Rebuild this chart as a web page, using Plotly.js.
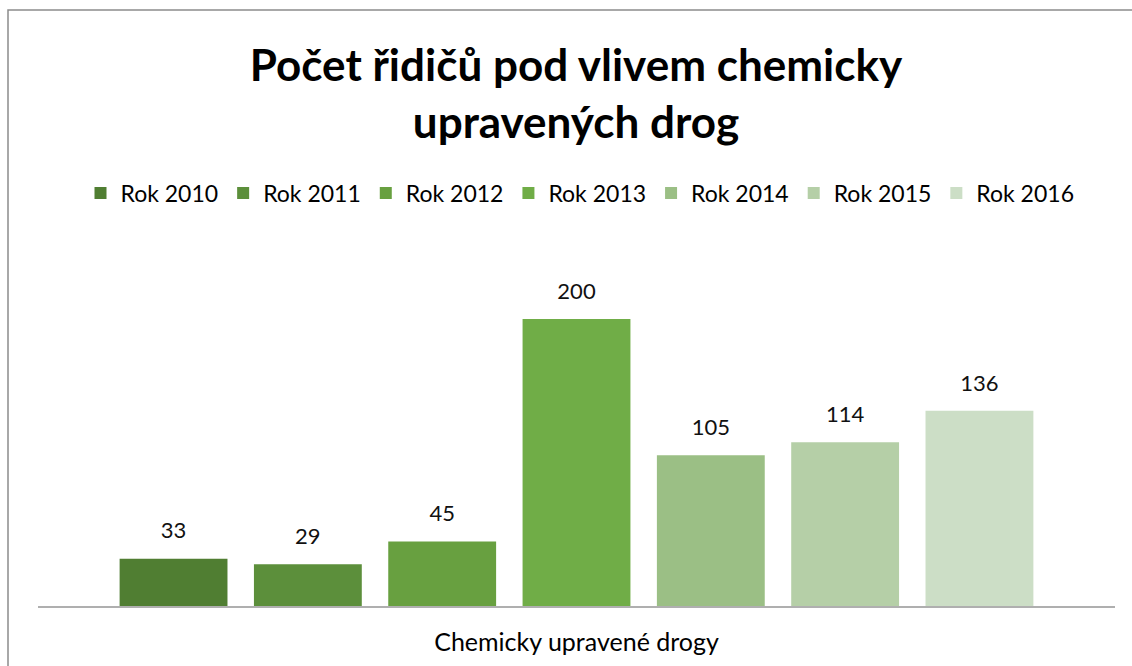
<!DOCTYPE html>
<html>
<head>
<meta charset="utf-8">
<script src="https://cdn.plot.ly/plotly-3.0.1.min.js"></script>
<style>html,body{margin:0;padding:0;background:#fff;}#chart{width:1132px;height:666px;}</style>
</head>
<body>
<div id="chart"></div>
<script>
const category = ["Chemicky upravené drogy"];
const years = ["Rok 2010", "Rok 2011", "Rok 2012", "Rok 2013", "Rok 2014", "Rok 2015", "Rok 2016"];
const values = [33, 29, 45, 200, 105, 114, 136];
const colors = ["#507E32", "#5C8F3B", "#68A040", "#70AD47", "#9BBF85", "#B5CFA7", "#CCDEC6"];

const FONT = "Lato, 'Open Sans', sans-serif";

const bars = years.map((name, i) => ({
  type: "bar",
  name: name,
  x: category,
  y: [values[i]],
  marker: {color: colors[i]},
  offsetgroup: "g" + i,
  hoverinfo: "skip"
}));

const labels = years.map((name, i) => ({
  type: "scatter",
  mode: "markers+text",
  name: name + " label",
  showlegend: false,
  x: category,
  y: [values[i]],
  text: [String(values[i])],
  textposition: "top center",
  textfont: {family: FONT, size: 22, color: "#111"},
  marker: {size: 22, opacity: 0},
  offsetgroup: "g" + i,
  cliponaxis: false,
  hoverinfo: "skip"
}));

const layout = {
  width: 1132,
  height: 666,
  margin: {l: 38, r: 17, t: 250, b: 60},
  paper_bgcolor: "#fff",
  plot_bgcolor: "#fff",
  font: {family: FONT, color: "#000"},
  title: {
    text: "<b>Počet řidičů pod vlivem chemicky<br>upravených drog</b>",
    font: {family: FONT, size: 44, color: "#000"},
    x: 576 / 1132, xanchor: "center",
    y: 1 - 81/666, yanchor: "middle", yref: "container"
  },
  barmode: "group",
  bargap: 0.127,
  bargroupgap: 0.197,
  scattermode: "group",
  scattergap: 0.127,
  showlegend: true,
  legend: {
    orientation: "h",
    x: 580 / 1132, xanchor: "center", xref: "container",
    y: 1 - 193/666, yanchor: "middle", yref: "container",
    font: {family: FONT, size: 23, color: "#000"},
    traceorder: "normal"
  },
  xaxis: {
    type: "category",
    showline: true, linecolor: "#AFAFAF", linewidth: 2,
    ticks: "", showgrid: false, zeroline: false,
    ticklabelstandoff: 13,
    tickfont: {family: FONT, size: 25, color: "#000"},
    fixedrange: true
  },
  yaxis: {
    range: [0, 248],
    visible: false,
    showgrid: false, zeroline: false,
    fixedrange: true
  },
  shapes: [{
    type: "rect", xref: "paper", yref: "paper",
    x0: (8 - 38) / 1077, x1: 1.03, y0: -0.25, y1: (606 - 10) / 356,
    line: {color: "#8C8C8C", width: 1.5}, fillcolor: "rgba(0,0,0,0)", layer: "below"
  }]
};

Plotly.newPlot("chart", bars.concat(labels), layout, {displayModeBar: false, staticPlot: true});
</script>
</body>
</html>
